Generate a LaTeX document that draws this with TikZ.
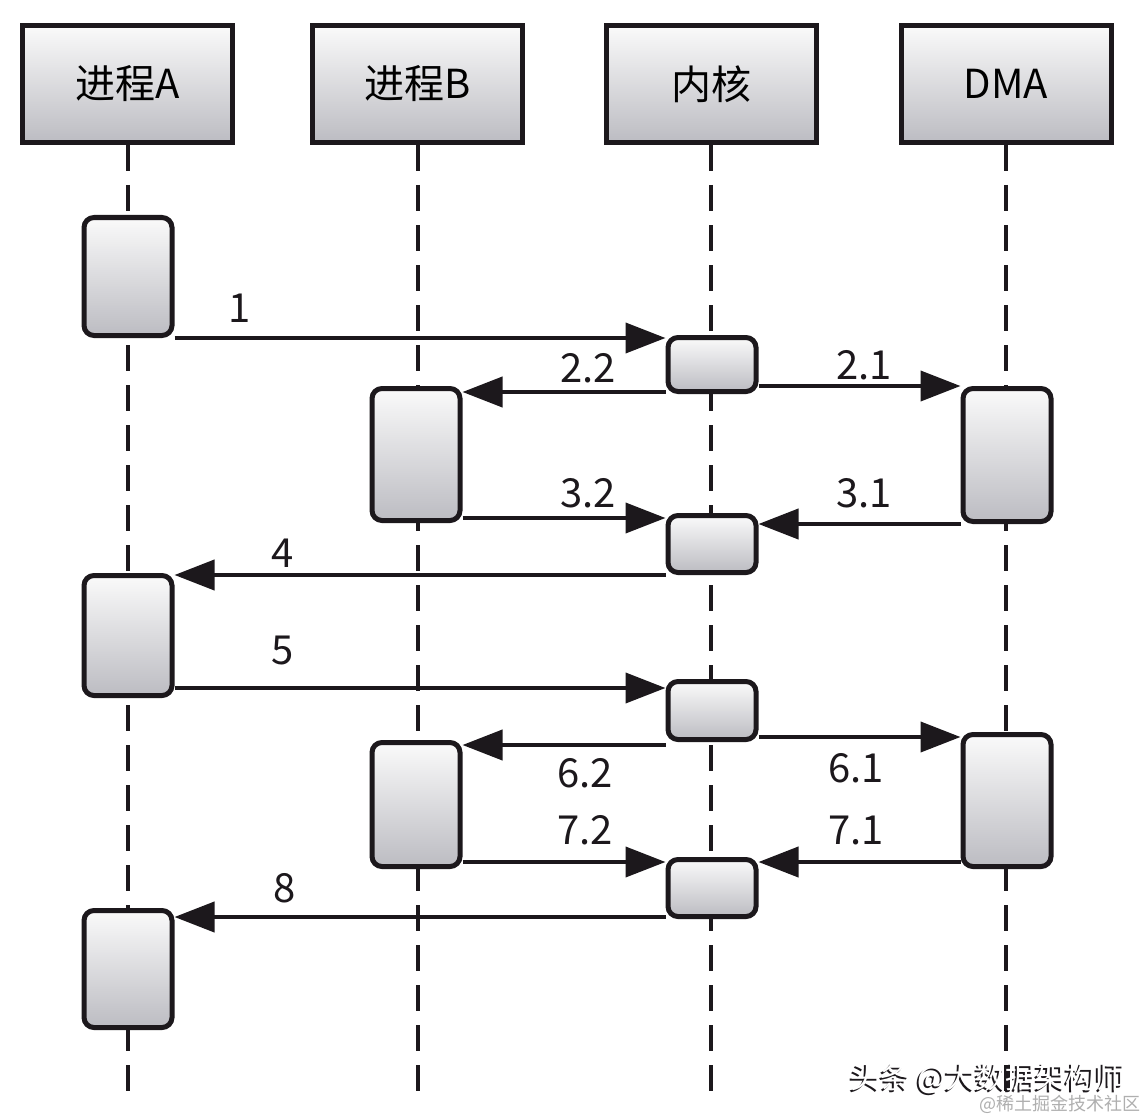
\documentclass[tikz,border=0pt]{standalone}
\usepackage{fontspec}
\setmainfont{Noto Sans CJK SC}
\usetikzlibrary{arrows.meta}
\definecolor{boxTop}{RGB}{250,250,250}
\definecolor{boxBottom}{RGB}{188,188,194}
\definecolor{lineDark}{RGB}{28,24,28}
\definecolor{markGray}{RGB}{175,175,175}

\begin{document}
\begin{tikzpicture}[x=1pt,y=-1pt,
  header/.style={draw=lineDark, line width=5pt, top color=boxTop, bottom color=boxBottom,
    minimum width=210pt, minimum height=117pt, inner sep=0pt, font=\fontsize{40}{44}\selectfont},
  act/.style={draw=lineDark, line width=5pt, rounded corners=10pt, top color=boxTop,
    bottom color=boxBottom, minimum width=88pt, inner sep=0pt},
  lifeline/.style={lineDark, line width=4pt, dash pattern=on 26pt off 14pt},
  msg/.style={lineDark, line width=4pt, -{Triangle[length=40pt,width=30pt]}},
  num/.style={font=\fontsize{40}{44}\selectfont, text=lineDark}]
        \fill[white] (0,0) rectangle (1148,1118);
        \useasboundingbox (0,0) rectangle (1148,1118);
        % heads
        \node[header] (ha) at (127.5,84) {进程A};
        \node[header] (hb) at (417.5,84) {进程B};
        \node[header] (hk) at (711,84) {内核};
        \node[header] (hd) at (1006,84) {DMA};
        \coordinate (bottom) at (0,1095);
        \foreach \h in {ha,hb,hk,hd}
          \draw[lifeline] (\h.south) -- (\h.south |- bottom);
        % activations
        \node[act, minimum height=118pt] (a1) at (128,276.5) {};
        \node[act, minimum height=54pt] (k1) at (712,364.5) {};
        \node[act, minimum height=132pt] (b1) at (416,454.5) {};
        \node[act, minimum height=133pt] (d1) at (1007,455) {};
        \node[act, minimum height=57pt] (k2) at (712,544) {};
        \node[act, minimum height=120pt] (a2) at (128,635.5) {};
        \node[act, minimum height=58pt] (k3) at (712,710.5) {};
        \node[act, minimum height=124pt] (b2) at (416,804.5) {};
        \node[act, minimum height=132pt] (d2) at (1007,800.5) {};
        \node[act, minimum height=57pt] (k4) at (712,888) {};
        \node[act, minimum height=117pt] (a3) at (128,969) {};
        % messages
        \draw[msg] (a1.south east) -- (a1.south east -| k1.west);
        \draw[msg] ([yshift=2pt]k1.south west) -- ([yshift=2pt]k1.south west -| b1.east);
        \draw[msg] (k1.east |- d1.north west) -- (d1.north west);
        \draw[msg] ([yshift=5pt]b1.south east) -- ([yshift=5pt]b1.south east -| k2.west);
        \draw[msg] (d1.south west) -- (d1.south west -| k2.east);
        \draw[msg] (k2.south west) -- (k2.south west -| a2.east);
        \draw[msg] ([yshift=10pt]a2.south east) -- ([yshift=10pt]a2.south east -| k3.west);
        \draw[msg] ([yshift=-3pt]k3.south west) -- ([yshift=-3pt]k3.south west -| b2.east);
        \draw[msg] ([yshift=5pt]k3.south east) -- ([yshift=5pt]k3.south east -| d2.west);
        \draw[msg] ([yshift=7pt]b2.south east) -- ([yshift=7pt]b2.south east -| k4.west);
        \draw[msg] ([yshift=7pt]d2.south west) -- ([yshift=7pt]d2.south west -| k4.east);
        \draw[msg] ([yshift=2pt]k4.south west) -- ([yshift=2pt]k4.south west -| a3.east);
        % numbers
        \node[num] (l1) at (240,308) {1};
        \node[num] (l22) at (588,368) {2.2};
        \node[num] (l21) at (864,365) {2.1};
        \node[num] (l32) at (588,493) {3.2};
        \node[num] (l31) at (864,493) {3.1};
        \node[num] (l4) at (283,553) {4};
        \node[num] (l5) at (283,650) {5};
        \node[num] (l62) at (585,773) {6.2};
        \node[num] (l61) at (856,768) {6.1};
        \node[num] (l72) at (585,830) {7.2};
        \node[num] (l71) at (856,830) {7.1};
        \node[num] (l8) at (285,888) {8};
        % watermark
        \node[font=\fontsize{30}{34}\selectfont, text=lineDark] (wmshadow) at (986,1080) {头条 @大数据架构师};
        \node[font=\fontsize{30}{34}\selectfont, text=white] (wm) at (988,1078) {头条 @大数据架构师};
        \node[font=\fontsize{18}{20}\selectfont, text=markGray] (wmsite) at (1060,1104) {@稀土掘金技术社区};
      \end{tikzpicture}
\end{document}
